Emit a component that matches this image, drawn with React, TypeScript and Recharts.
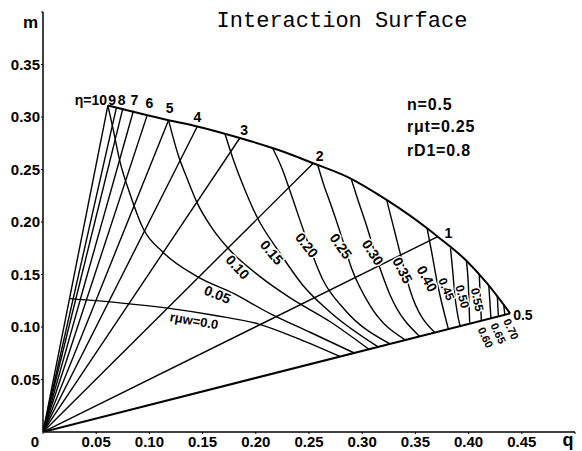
import React from 'react';
import { ComposedChart, Line, XAxis, YAxis, Scatter } from 'recharts';

// ---- eta (radial) lines: value and the point where each meets the outer boundary
const etaValues = ['10', '9', '8', '7', '6', '5', '4', '3', '2', '1', '0.5'];
const etaEndQ = [0.061, 0.069, 0.075, 0.085, 0.098, 0.118, 0.145, 0.185, 0.254, 0.371, 0.439];
const etaEndM = [0.311, 0.309, 0.308, 0.306, 0.302, 0.297, 0.291, 0.280, 0.256, 0.186, 0.113];

// ---- outer boundary (interaction envelope)
const outerQ = [0.061, 0.118, 0.145, 0.185, 0.220, 0.254, 0.286, 0.323, 0.361, 0.371, 0.397, 0.417, 0.439];
const outerM = [0.311, 0.297, 0.291, 0.280, 0.269, 0.256, 0.243, 0.221, 0.194, 0.186, 0.164, 0.142, 0.113];

// ---- curves of constant r_uw  ([q, m] pairs)
const r000 = [[0.025, 0.127], [0.072, 0.123], [0.117, 0.118], [0.162, 0.111], [0.202, 0.103], [0.242, 0.088], [0.279, 0.072]];
const r005 = [[0.061, 0.311], [0.066, 0.288], [0.072, 0.259], [0.082, 0.226], [0.094, 0.194], [0.113, 0.171], [0.145, 0.148], [0.179, 0.132], [0.213, 0.113], [0.251, 0.095], [0.293, 0.075]];
const r010 = [[0.118, 0.297], [0.127, 0.264], [0.136, 0.240], [0.145, 0.218], [0.159, 0.194], [0.174, 0.175], [0.204, 0.148], [0.232, 0.128], [0.270, 0.105], [0.306, 0.079]];
const r015 = [[0.171, 0.284], [0.179, 0.259], [0.190, 0.230], [0.201, 0.205], [0.223, 0.170], [0.244, 0.140], [0.270, 0.114], [0.315, 0.081]];
const r020 = [[0.216, 0.270], [0.225, 0.250], [0.232, 0.230], [0.248, 0.183], [0.263, 0.145], [0.284, 0.116], [0.326, 0.084]];
const r025 = [[0.258, 0.255], [0.264, 0.235], [0.270, 0.218], [0.280, 0.188], [0.290, 0.156], [0.307, 0.121], [0.340, 0.088]];
const r030 = [[0.290, 0.240], [0.296, 0.221], [0.303, 0.200], [0.314, 0.164], [0.326, 0.131], [0.354, 0.091]];
const r035 = [[0.323, 0.221], [0.329, 0.197], [0.336, 0.169], [0.345, 0.135], [0.368, 0.095]];
const r040 = [[0.361, 0.194], [0.365, 0.173], [0.370, 0.145], [0.381, 0.098]];
const r045 = [[0.383, 0.175], [0.385, 0.154], [0.387, 0.131], [0.392, 0.101]];
const r050 = [[0.398, 0.162], [0.400, 0.135], [0.401, 0.104]];
const r055 = [[0.410, 0.150], [0.411, 0.128], [0.412, 0.106]];
const r060 = [[0.419, 0.139], [0.420, 0.124], [0.421, 0.108]];
const r065 = [[0.427, 0.129], [0.428, 0.110]];
const r070 = [[0.433, 0.121], [0.434, 0.112]];

const rValues = ['rμw=0.0', '0.05', '0.10', '0.15', '0.20', '0.25', '0.30', '0.35', '0.40', '0.45', '0.50', '0.55', '0.60', '0.65', '0.70'];
const rCurves = [r000, r005, r010, r015, r020, r025, r030, r035, r040, r045, r050, r055, r060, r065, r070];

// ---- label anchors (data units)
const etaLabelText = ['η=10', '9', '8', '7', '6', '5', '4', '3', '2', '1', '0.5'];
const etaLabelQ = [0.045, 0.065, 0.074, 0.086, 0.100, 0.119, 0.145, 0.189, 0.260, 0.381, 0.451];
const etaLabelM = [0.316, 0.316, 0.316, 0.316, 0.313, 0.309, 0.300, 0.288, 0.263, 0.190, 0.111];

const rLabelQ = [0.142, 0.164, 0.183, 0.215, 0.248, 0.280, 0.310, 0.338, 0.361, 0.379, 0.394, 0.408, 0.416, 0.428, 0.440];
const rLabelM = [0.106, 0.131, 0.157, 0.171, 0.178, 0.177, 0.171, 0.154, 0.146, 0.136, 0.129, 0.126, 0.090, 0.094, 0.098];

// ---- axes
const xTicks = [0, 0.05, 0.1, 0.15, 0.2, 0.25, 0.3, 0.35, 0.4, 0.45, 0.5];
const yTicks = [0.05, 0.1, 0.15, 0.2, 0.25, 0.3, 0.35, 0.4];

// ---- layout / style (not data)
const rLabelAngle = [10, 22, 47, 50, 52, 55, 57, 63, 62, 67, 75, 78, 65, 65, 65];
const rLabelSize = [13, 14, 14, 14, 14, 14, 14, 14, 14, 12, 12, 12, 11, 11, 11];
const FONT = '"Liberation Sans", Arial, Helvetica, sans-serif';

const toPts = (arr: number[][]) => arr.map(([q, m]) => ({ q, m }));
const outerPts = outerQ.map((q, i) => ({ q, m: outerM[i] }));
const etaLines = etaValues.map((_, i) => [{ q: 0, m: 0 }, { q: etaEndQ[i], m: etaEndM[i] }]);
const etaLabels = etaLabelText.map((text, i) => ({ q: etaLabelQ[i], m: etaLabelM[i], text }));
const rLabels = rValues.map((text, i) => ({
  q: rLabelQ[i], m: rLabelM[i], text, angle: rLabelAngle[i], size: rLabelSize[i],
}));

const XTick = (p: any) => {
  const { x, y, payload } = p;
  const v = payload.value;
  if (v >= 0.499) {
    return (
      <text x={x - 4} y={y - 3} dy="0.71em" textAnchor="middle" fontFamily={FONT} fontWeight="bold" fontSize={18} fill="#000">q</text>
    );
  }
  const t = v === 0 ? '0' : v.toFixed(2);
  return (
    <text x={v === 0 ? x - 8 : x} y={y} dy="0.71em" textAnchor="middle" fontFamily={FONT} fontWeight="bold" fontSize={15} fill="#000">{t}</text>
  );
};

const YTick = (p: any) => {
  const { x, y, payload } = p;
  const v = payload.value;
  if (v >= 0.399) {
    return (
      <text x={x - 2} y={y + 5} dy="0.35em" textAnchor="end" fontFamily={FONT} fontWeight="bold" fontSize={17} fill="#000">m</text>
    );
  }
  return (
    <text x={x} y={y} dy="0.35em" textAnchor="end" fontFamily={FONT} fontWeight="bold" fontSize={15} fill="#000">{v.toFixed(2)}</text>
  );
};

const EtaShape = (p: any) => {
  const { cx, cy, payload } = p;
  return (
    <text x={cx} y={cy} textAnchor="middle" dominantBaseline="central" fontFamily={FONT} fontWeight="bold" fontSize={14} fill="#000">
      {payload.text}
    </text>
  );
};

const RShape = (p: any) => {
  const { cx, cy, payload } = p;
  return (
    <text
      x={cx}
      y={cy}
      transform={`rotate(${payload.angle} ${cx} ${cy})`}
      textAnchor="middle"
      dominantBaseline="central"
      fontFamily={FONT}
      fontWeight="bold"
      fontSize={payload.size}
      fill="#000"
      stroke="#fff"
      strokeWidth={3}
      paintOrder="stroke"
    >
      {payload.text}
    </text>
  );
};

export default function App() {
  return (
    <div style={{ position: 'relative', paddingLeft: 8, paddingTop: 8, width: 574, height: 443 }}>
      <style>{'body{margin:0}'}</style>
      <ComposedChart width={574} height={443} margin={{ top: 4, right: 7, bottom: 0, left: 0 }}>
        <XAxis
          dataKey="q"
          type="number"
          domain={[0, 0.5]}
          ticks={xTicks}
          allowDataOverflow
          height={19}
          tickSize={2}
          tickMargin={2}
          tick={<XTick />}
          axisLine={{ stroke: '#000', strokeWidth: 1.5 }}
          tickLine={{ stroke: '#000' }}
        />
        <YAxis
          dataKey="m"
          type="number"
          domain={[0, 0.4]}
          ticks={yTicks}
          allowDataOverflow
          width={35}
          tickSize={2}
          tickMargin={1}
          tick={<YTick />}
          axisLine={{ stroke: '#000', strokeWidth: 1.5 }}
          tickLine={{ stroke: '#000' }}
        />
        {etaLines.map((d, i) => (
          <Line key={'eta' + i} data={d} dataKey="m" type="linear" stroke="#000" strokeWidth={i === etaLines.length - 1 ? 2 : 1.4} dot={false} activeDot={false} isAnimationActive={false} />
        ))}
        <Line data={outerPts} dataKey="m" type="monotone" stroke="#000" strokeWidth={2} dot={false} activeDot={false} isAnimationActive={false} />
        {rCurves.map((c, i) => (
          <Line key={'r' + i} data={toPts(c)} dataKey="m" type="monotone" stroke="#000" strokeWidth={1.4} dot={false} activeDot={false} isAnimationActive={false} />
        ))}
        <Scatter data={etaLabels} dataKey="m" shape={EtaShape} isAnimationActive={false} />
        <Scatter data={rLabels} dataKey="m" shape={RShape} isAnimationActive={false} />
      </ComposedChart>
      <svg width={574} height={443} style={{ position: 'absolute', left: 8, top: 8, pointerEvents: 'none' }}>
        <text x={334} y={19} textAnchor="middle" fontFamily='"Liberation Mono", "Courier New", monospace' fontSize={22} fill="#000">
          Interaction Surface
        </text>
        <text x={399} y={102} fontFamily={FONT} fontWeight="bold" fontSize={16} letterSpacing={0.8} fill="#000">n=0.5</text>
        <text x={399} y={124} fontFamily={FONT} fontWeight="bold" fontSize={16} letterSpacing={0.8} fill="#000">rμt=0.25</text>
        <text x={399} y={148} fontFamily={FONT} fontWeight="bold" fontSize={16} letterSpacing={0.8} fill="#000">rD1=0.8</text>
      </svg>
    </div>
  );
}
